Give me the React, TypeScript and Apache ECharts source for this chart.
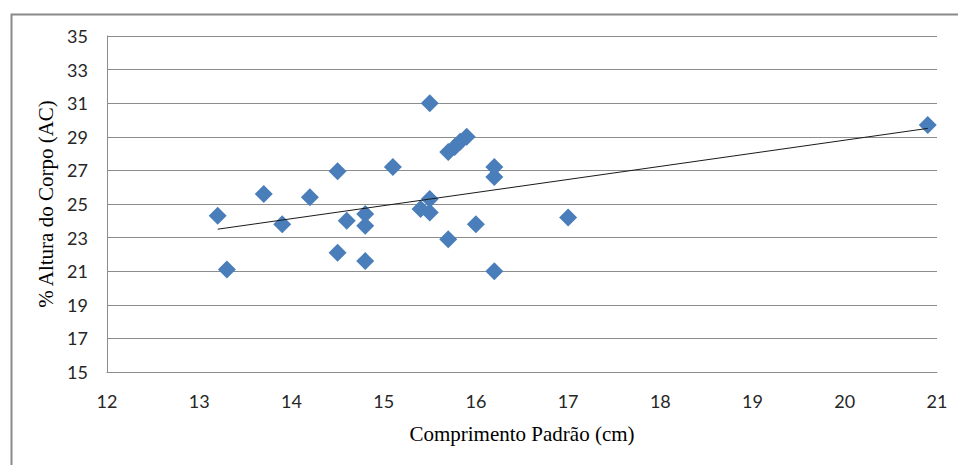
import React, { useEffect, useRef } from "react";
import * as echarts from "echarts";

const comprimento: number[] = [
  13.2, 13.3, 13.7, 13.9, 14.2, 14.5, 14.5, 14.6, 14.8, 14.8, 14.8, 15.1, 15.5,
  15.5, 15.4, 15.5, 15.7, 15.77, 15.83, 15.9, 15.7, 16.0, 16.2, 16.2, 16.2, 17.0, 20.9,
];
const alturaCorpo: number[] = [
  24.3, 21.1, 25.6, 23.8, 25.4, 26.95, 22.1, 24.0, 24.4, 23.7, 21.6, 27.2, 31.0,
  25.3, 24.7, 24.5, 28.1, 28.4, 28.7, 29.0, 22.9, 23.8, 27.2, 26.6, 21.0, 24.2, 29.7,
];
// linear trendline (start and end)
const trendX: number[] = [13.2, 20.9];
const trendY: number[] = [23.5, 29.5];
const xTicks = { min: 12, max: 21, interval: 1 };
const yTicks = { min: 15, max: 35, interval: 2 };
const xTitle = "Comprimento Padrão (cm)";
const yTitle = "% Altura do Corpo (AC)";

export default function App() {
  const ref = useRef<HTMLDivElement>(null);
  useEffect(() => {
    document.body.style.margin = "0";
    if (!ref.current) return;
    const chart = echarts.init(ref.current, undefined, { renderer: "svg" });
    const points = comprimento.map((x, i) => [x, alturaCorpo[i]]);
    const trend = trendX.map((x, i) => [x, trendY[i]]);
    const tickFont = {
      fontFamily: "Lato, 'Open Sans', sans-serif",
      fontSize: 18,
      color: "#262626",
    };
    const nameFont = {
      fontFamily: "'Liberation Serif', 'DejaVu Serif', serif",
      fontSize: 21,
      color: "#000000",
    };
    chart.setOption({
      animation: false,
      backgroundColor: "#ffffff",
      graphic: [
        {
          type: "rect",
          left: 9,
          top: 12,
          shape: { x: 0, y: 0, width: 980, height: 480 },
          style: { fill: "none", stroke: "#8a8a8a", lineWidth: 2 },
          silent: true,
        },
      ],
      grid: { left: 107, top: 36, right: 21, bottom: 93 },
      xAxis: {
        type: "value",
        min: xTicks.min,
        max: xTicks.max,
        interval: xTicks.interval,
        name: xTitle,
        nameLocation: "middle",
        nameGap: 51,
        nameTextStyle: nameFont,
        axisLine: { show: true, onZero: false, lineStyle: { color: "#8c8c8c", width: 1 } },
        axisTick: { show: false },
        splitLine: { show: false },
        axisLabel: { ...tickFont, margin: 20 },
      },
      yAxis: {
        type: "value",
        min: yTicks.min,
        max: yTicks.max,
        interval: yTicks.interval,
        name: yTitle,
        nameLocation: "middle",
        nameGap: 50,
        nameTextStyle: nameFont,
        axisLine: { show: true, onZero: false, lineStyle: { color: "#8c8c8c", width: 1 } },
        axisTick: { show: false },
        splitLine: { show: true, lineStyle: { color: "#8c8c8c", width: 1 } },
        axisLabel: { ...tickFont, margin: 19 },
      },
      series: [
        {
          type: "scatter",
          data: points,
          symbol: "diamond",
          symbolSize: 18,
          itemStyle: { color: "#4a7ebb", opacity: 1 },
          z: 2,
        },
        {
          type: "line",
          data: trend,
          symbol: "none",
          lineStyle: { color: "#1a1a1a", width: 1 },
          z: 3,
        },
      ],
    });
    return () => chart.dispose();
  }, []);
  return <div ref={ref} style={{ width: 958, height: 465 }} />;
}
